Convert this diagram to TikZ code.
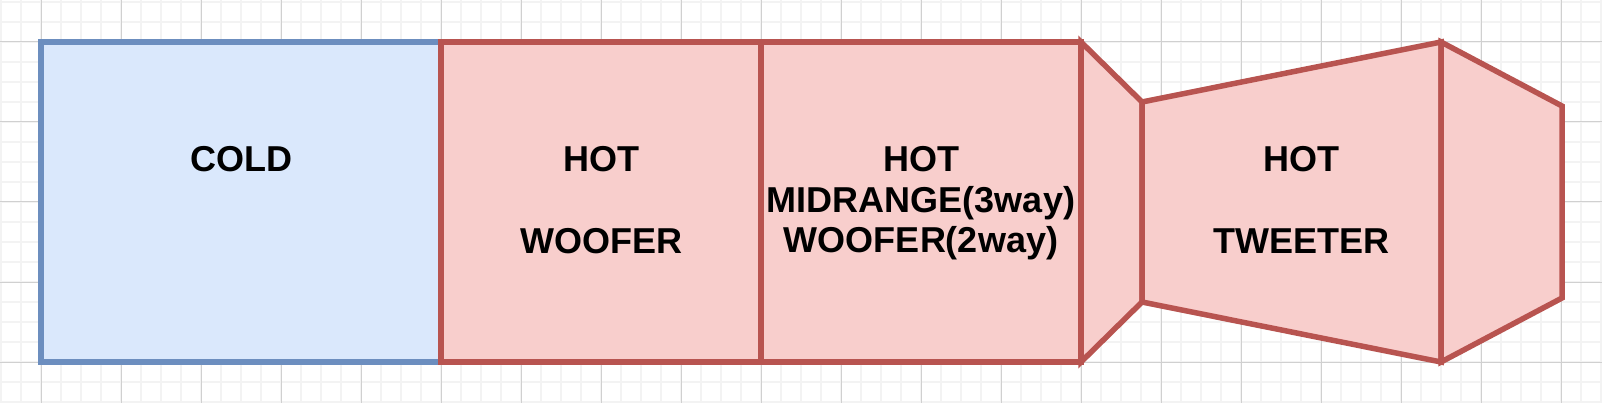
\documentclass[tikz,border=0pt]{standalone}
\usepackage{fontspec}
\setmainfont{Liberation Sans}
\definecolor{coldfill}{HTML}{DAE8FC}
\definecolor{colddraw}{HTML}{6C8EBF}
\definecolor{hotfill}{HTML}{F8CECC}
\definecolor{hotdraw}{HTML}{B85450}
\definecolor{minorgrid}{HTML}{F3F3F3}
\definecolor{majorgrid}{HTML}{D0D0D0}
\begin{document}
\begin{tikzpicture}[x=1pt,y=-1pt,
        cold/.style={draw=colddraw,fill=coldfill,line width=5.5pt},
        hot/.style={draw=hotdraw,fill=hotfill,line width=5.5pt},
        box/.style={rectangle,anchor=north west,minimum height=320pt,inner sep=0pt,outer sep=0pt},
        lbl/.style={anchor=base,inner sep=0pt,font=\bfseries\fontsize{36}{41}\selectfont}]
        \useasboundingbox (0,0) rectangle (1602,403);
        % grid
        \foreach \x in {1,21,...,1601} {
            \draw[minorgrid,line width=2pt] (\x,0) -- (\x,403);
        }
        \foreach \y in {2,22,...,402} {
            \draw[minorgrid,line width=2pt] (0,\y) -- (1602,\y);
        }
        \foreach \x in {41,121,...,1561} {
            \draw[majorgrid,line width=1pt] (\x,0) -- (\x,403);
        }
        \foreach \y in {42,122,...,362} {
            \draw[majorgrid,line width=1pt] (0,\y) -- (1602,\y);
        }
        % boxes
        \node[box,cold,minimum width=400pt] (cold) at (41,42) {};
        \node[box,hot,minimum width=320pt] (woofer) at (cold.north east) {};
        \node[box,hot,minimum width=320pt] (mid) at (woofer.north east) {};
        % horn
        \coordinate (neck-top) at (1142,102);
        \coordinate (neck-bot) at (1142,302);
        \coordinate (tw-top) at (1441,42);
        \coordinate (tw-bot) at (1441,362);
        \coordinate (end-top) at (1562,106);
        \coordinate (end-bot) at (1562,298);
        \draw[hot] (mid.north east) -- (neck-top) -- (neck-bot) -- (mid.south east) -- cycle;
        \draw[hot] (neck-top) -- (tw-top) -- (tw-bot) -- (neck-bot) -- cycle;
        \draw[hot] (tw-top) -- (end-top) -- (end-bot) -- (tw-bot) -- cycle;
        % labels
        \node[lbl] (cold-lbl) at (241,172) {COLD};
        \node[lbl] (woofer-hot) at (601,172) {HOT};
        \node[lbl] (woofer-lbl) at (601,254) {WOOFER};
        \node[lbl] (mid-hot) at (921,172) {HOT};
        \node[lbl] (mid-lbl) at (921,212.5) {MIDRANGE(3way)};
        \node[lbl] (mid-lbl2) at (921,253) {WOOFER(2way)};
        \node[lbl] (tw-hot) at (1301,172) {HOT};
        \node[lbl] (tw-lbl) at (1301,254) {TWEETER};
    \end{tikzpicture}
\end{document}
